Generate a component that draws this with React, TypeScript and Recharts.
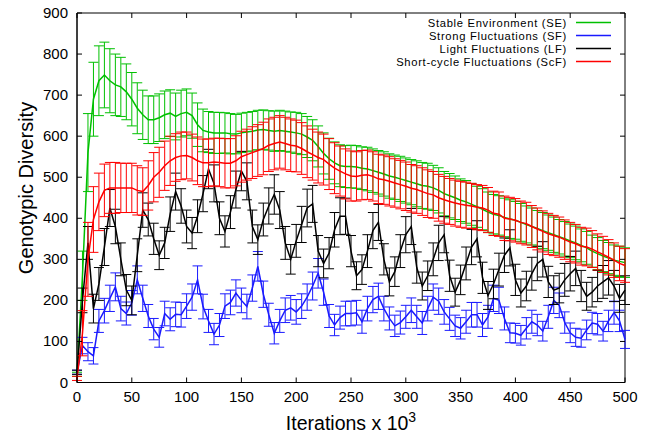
import React from "react";
import {
  ComposedChart,
  Line,
  XAxis,
  YAxis,
  ErrorBar,
  ReferenceArea,
} from "recharts";

// plot box in page pixels (chart is pinned to top-left of the page)
const W = 655;
const H = 438;
const PLOT = { left: 77, right: 625, top: 13, bottom: 382.5 };
const FONT = '"Liberation Sans", Arial, Helvetica, sans-serif';

// iterations (x 10^3)
const ITERATIONS = [
  0, 5, 10, 15, 20, 25, 30, 35, 40, 45, 50, 55, 60, 65, 70, 75, 80, 85, 90, 95,
  100, 105, 110, 115, 120, 125, 130, 135, 140, 145, 150, 155, 160, 165, 170, 175, 180, 185, 190, 195,
  200, 205, 210, 215, 220, 225, 230, 235, 240, 245, 250, 255, 260, 265, 270, 275, 280, 285, 290, 295,
  300, 305, 310, 315, 320, 325, 330, 335, 340, 345, 350, 355, 360, 365, 370, 375, 380, 385, 390, 395,
  400, 405, 410, 415, 420, 425, 430, 435, 440, 445, 450, 455, 460, 465, 470, 475, 480, 485, 490, 495,
  500,
];

// Stable Environment (SE)
const SE_MEAN = [
  20, 260, 560, 690, 735, 749, 735, 725, 720, 708, 690, 668, 652, 640, 640, 645, 652, 656, 648, 655,
  658, 650, 628, 614, 610, 608, 608, 608, 606, 605, 608, 610, 612, 615, 616, 614, 612, 614, 612, 610,
  608, 605, 598, 590, 575, 558, 545, 535, 528, 526, 526, 525, 522, 520, 516, 512, 508, 503, 500, 496,
  492, 488, 484, 480, 478, 474, 468, 460, 455, 450, 444, 440, 434, 428, 422, 415, 410, 407, 402, 398,
  395, 390, 385, 380, 375, 370, 365, 360, 355, 350, 345, 340, 334, 328, 320, 314, 308, 303, 298, 295,
  292,
];
const SE_ERR = [
  5, 60, 95, 90, 85, 80, 78, 75, 72, 68, 65, 62, 60, 58, 58, 58, 58, 57, 57, 57,
  57, 55, 53, 52, 50, 50, 50, 49, 49, 48, 48, 48, 48, 48, 48, 48, 49, 49, 49, 49,
  50, 50, 50, 50, 50, 50, 50, 51, 51, 51, 52, 52, 52, 53, 53, 53, 54, 54, 54, 55,
  55, 55, 56, 56, 56, 55, 55, 54, 54, 53, 52, 52, 51, 50, 50, 49, 48, 48, 47, 47,
  46, 46, 45, 45, 44, 44, 43, 43, 42, 42, 41, 41, 40, 40, 39, 39, 38, 38, 37, 37,
  36,
];

// Strong Fluctuations (SF)
const SF_MEAN = [
  25, 90, 75, 65, 150, 175, 205, 233, 180, 168, 194, 250, 205, 162, 130, 110, 168, 154, 166, 165,
  186, 208, 250, 185, 150, 118, 140, 186, 195, 218, 200, 185, 230, 283, 215, 165, 120, 150, 176, 182,
  172, 186, 208, 235, 266, 220, 162, 140, 158, 168, 168, 170, 148, 180, 202, 210, 180, 156, 138, 146,
  160, 176, 160, 145, 180, 208, 198, 172, 155, 138, 132, 148, 165, 165, 140, 160, 205, 200, 156, 121,
  120, 115, 132, 148, 140, 125, 160, 200, 188, 146, 121, 110, 108, 128, 145, 142, 125, 150, 170, 150,
  105,
];
const SF_ERR = [
  5, 20, 22, 20, 28, 30, 32, 34, 30, 28, 30, 34, 32, 28, 26, 24, 30, 28, 30, 30,
  30, 32, 34, 30, 28, 26, 28, 30, 30, 32, 30, 30, 32, 36, 32, 28, 26, 28, 30, 30,
  30, 30, 32, 34, 36, 32, 28, 26, 28, 30, 30, 30, 28, 30, 32, 32, 30, 28, 26, 28,
  28, 30, 28, 28, 30, 32, 32, 30, 28, 26, 26, 28, 30, 30, 28, 28, 32, 32, 28, 24,
  24, 24, 26, 28, 26, 24, 28, 32, 30, 26, 24, 22, 22, 24, 26, 26, 24, 26, 28, 26,
  22,
];

// Light Fluctuations (LF)
const LF_MEAN = [
  25, 200, 340, 180, 240, 330, 425, 380, 300, 225, 200, 310, 420, 397, 350, 310, 340, 410, 465, 430,
  380, 364, 405, 460, 520, 485, 400, 368, 415, 470, 515, 490, 380, 348, 397, 430, 458, 420, 340, 300,
  345, 385, 425, 435, 320, 290, 315, 372, 405, 405, 320, 260, 275, 320, 370, 390, 300, 245, 270, 320,
  360, 380, 280, 235, 260, 300, 340, 360, 260, 220, 250, 290, 330, 350, 255, 212, 240, 275, 310, 328,
  250, 218, 235, 265, 290, 300, 245, 225, 230, 250, 265, 278, 235, 210, 220, 235, 245, 255, 235, 205,
  225,
];
const LF_ERR = [
  5, 30, 40, 35, 40, 45, 45, 42, 40, 38, 35, 40, 42, 40, 38, 35, 38, 42, 45, 42,
  40, 38, 40, 44, 48, 45, 40, 38, 40, 45, 48, 45, 40, 36, 40, 44, 48, 45, 40, 36,
  40, 44, 46, 45, 38, 35, 38, 42, 45, 44, 38, 34, 36, 40, 44, 44, 38, 34, 36, 40,
  44, 44, 38, 34, 36, 40, 43, 44, 38, 34, 36, 40, 43, 44, 38, 34, 36, 40, 42, 44,
  38, 34, 36, 40, 42, 43, 38, 35, 36, 40, 42, 42, 38, 34, 36, 38, 40, 42, 38, 34,
  35,
];

// Short-cycle Fluctuations (ScF)
const SCF_MEAN = [
  10, 120, 300, 397, 440, 468, 474, 474, 474, 474, 474, 468, 465, 480, 500, 512, 528, 540, 548, 552,
  553, 548, 540, 535, 535, 537, 536, 534, 534, 540, 550, 555, 560, 565, 570, 578, 582, 586, 582, 578,
  576, 570, 562, 555, 548, 543, 532, 522, 515, 508, 503, 502, 505, 506, 502, 496, 494, 490, 486, 482,
  478, 473, 470, 465, 460, 457, 450, 445, 441, 437, 434, 432, 430, 427, 425, 420, 412, 410, 400, 398,
  395, 390, 387, 380, 374, 368, 362, 358, 354, 348, 342, 338, 332, 330, 325, 318, 312, 305, 298, 290,
  285,
];
const SCF_ERR = [
  5, 55, 90, 80, 70, 64, 62, 62, 60, 60, 60, 60, 58, 60, 60, 61, 60, 60, 58, 58,
  57, 57, 58, 58, 58, 58, 59, 60, 60, 61, 62, 62, 63, 63, 64, 64, 64, 64, 64, 64,
  63, 63, 63, 62, 62, 62, 62, 62, 61, 61, 61, 60, 60, 60, 60, 60, 60, 60, 59, 59,
  59, 58, 58, 58, 58, 57, 57, 57, 56, 56, 56, 56, 55, 55, 55, 55, 54, 54, 54, 53,
  53, 52, 52, 51, 51, 50, 50, 49, 49, 48, 48, 47, 46, 46, 45, 44, 44, 43, 42, 42,
  41,
];

const X_TICKS = [0, 50, 100, 150, 200, 250, 300, 350, 400, 450, 500];
const Y_TICKS = [0, 100, 200, 300, 400, 500, 600, 700, 800, 900];

const SERIES = [
  { key: "se", name: "Stable Environment (SE)", color: "#00c000" },
  { key: "sf", name: "Strong Fluctuations (SF)", color: "#1a1aff" },
  { key: "lf", name: "Light Fluctuations (LF)", color: "#000000" },
  { key: "scf", name: "Short-cycle Fluctuations (ScF)", color: "#ff0000" },
];

const data = ITERATIONS.map((x, i) => ({
  x,
  se: SE_MEAN[i],
  seErr: SE_ERR[i],
  sf: SF_MEAN[i],
  sfErr: SF_ERR[i],
  lf: LF_MEAN[i],
  lfErr: LF_ERR[i],
  scf: SCF_MEAN[i],
  scfErr: SCF_ERR[i],
}));

const TICK_LEN = 5;

// gnuplot style: ticks point inward, mirrored on the opposite side
function XTick(props: any) {
  const { x, payload } = props;
  return (
    <g>
      <line x1={x} x2={x} y1={PLOT.bottom} y2={PLOT.bottom - TICK_LEN} stroke="#000" />
      <line x1={x} x2={x} y1={PLOT.top} y2={PLOT.top + TICK_LEN} stroke="#000" />
      <text x={x} y={PLOT.bottom + 19} textAnchor="middle" fontSize={15} fontFamily={FONT} fill="#000">
        {payload.value}
      </text>
    </g>
  );
}

function YTick(props: any) {
  const { y, payload } = props;
  return (
    <g>
      <line x1={PLOT.left} x2={PLOT.left + TICK_LEN} y1={y} y2={y} stroke="#000" />
      <line x1={PLOT.right} x2={PLOT.right - TICK_LEN} y1={y} y2={y} stroke="#000" />
      <text x={68} y={y + 5} textAnchor="end" fontSize={15} fontFamily={FONT} fill="#000">
        {payload.value}
      </text>
    </g>
  );
}

const LEGEND_Y = [22.5, 35.5, 48.5, 61.5];

export default function App() {
  return (
    <div style={{ position: "absolute", left: 0, top: 0, width: W, height: H, background: "#fff" }}>
      <ComposedChart
        width={W}
        height={H}
        data={data}
        margin={{ top: PLOT.top, right: W - PLOT.right, bottom: 0, left: 0 }}
      >
        <XAxis
          dataKey="x"
          type="number"
          domain={[0, 500]}
          ticks={X_TICKS}
          tick={<XTick />}
          tickLine={false}
          tickSize={0}
          axisLine={{ stroke: "#000" }}
          height={H - PLOT.bottom}
          interval={0}
        />
        <YAxis
          type="number"
          domain={[0, 900]}
          ticks={Y_TICKS}
          tick={<YTick />}
          tickLine={false}
          tickSize={0}
          axisLine={{ stroke: "#000" }}
          width={PLOT.left}
          interval={0}
        />
        <ReferenceArea x1={0} x2={500} y1={0} y2={900} fill="none" stroke="#000" strokeWidth={1} />
        {SERIES.map((s) => (
          <Line
            key={s.key}
            dataKey={s.key}
            name={s.name}
            type="linear"
            stroke={s.color}
            strokeWidth={1.5}
            dot={false}
            activeDot={false}
            isAnimationActive={false}
          >
            <ErrorBar
              dataKey={`${s.key}Err`}
              width={5}
              stroke={s.color}
              strokeWidth={1}
              isAnimationActive={false}
            />
          </Line>
        ))}
      </ComposedChart>
      <svg
        width={W}
        height={H}
        style={{ position: "absolute", left: 0, top: 0, pointerEvents: "none" }}
        fontFamily={FONT}
      >
        {SERIES.map((s, i) => (
          <g key={s.key}>
            <text
              x={567}
              y={LEGEND_Y[i] + 4}
              textAnchor="end"
              fontSize={11.2}
              letterSpacing={0.7}
              fill="#000"
            >
              {s.name}
            </text>
            <line x1={576} x2={611} y1={LEGEND_Y[i]} y2={LEGEND_Y[i]} stroke={s.color} strokeWidth={1.5} />
          </g>
        ))}
        <text x={351} y={430} textAnchor="middle" fontSize={19.5} fill="#000">
          Iterations x 10
          <tspan dy={-8} fontSize={14}>3</tspan>
        </text>
        <text
          x={33}
          y={188}
          transform="rotate(-90 33 188)"
          textAnchor="middle"
          fontSize={20}
          fill="#000"
        >
          Genotypic Diversity
        </text>
      </svg>
    </div>
  );
}
